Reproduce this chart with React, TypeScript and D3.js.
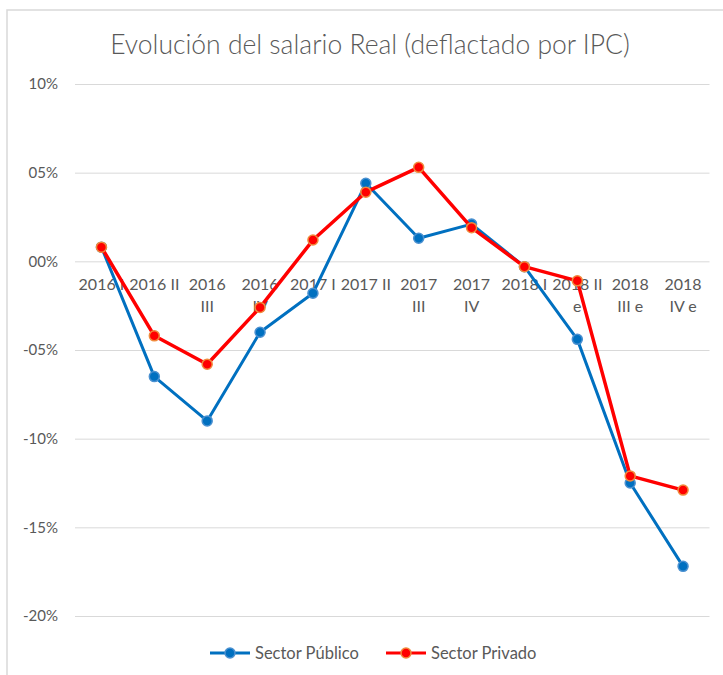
import React, { useEffect, useRef } from 'react';
import * as d3 from 'd3';

// etiquetas de periodo, "\n" marca el salto de línea del eje
const periods = [
    '2016 I', '2016 II', '2016\nIII', '2016\nIV', '2017 I', '2017 II',
    '2017\nIII', '2017\nIV', '2018 I', '2018 II\ne', '2018\nIII e', '2018\nIV e',
];
const publico = [0.8, -6.5, -9.0, -4.0, -1.8, 4.4, 1.3, 2.1, -0.3, -4.4, -12.5, -17.2];
const privado = [0.8, -4.2, -5.8, -2.6, 1.2, 3.9, 5.3, 1.9, -0.3, -1.1, -12.1, -12.9];
const yTicks = [10, 5, 0, -5, -10, -15, -20];
const seriesNames = ['Sector Público', 'Sector Privado'];

const W = 723;
const H = 675;
const FONT = 'Lato, "Open Sans", sans-serif';
const GREY = '#595959';

const App: React.FC = () => {
    const ref = useRef<SVGSVGElement>(null);

    useEffect(() => {
        draw();
        //eslint-disable-next-line
    }, []);

    const draw = () => {
        const svg = d3.select(ref.current);
        svg.selectAll('*').remove();

        // marco del gráfico
        svg.append('rect')
            .attr('x', 7).attr('y', 10)
            .attr('width', W + 10).attr('height', H + 10)
            .attr('fill', 'white')
            .attr('stroke', '#d9d9d9')
            .attr('stroke-width', 1.5);

        svg.append('text')
            .attr('x', 370).attr('y', 54)
            .attr('text-anchor', 'middle')
            .attr('font-family', FONT)
            .attr('font-weight', 300)
            .attr('font-size', 26.5)
            .attr('fill', GREY)
            .text('Evolución del salario Real (deflactado por IPC)');

        const x = d3.scaleBand()
            .domain(periods)
            .range([75, 709.5]);

        const y = d3.scaleLinear()
            .domain([-20, 10])
            .range([616, 84]);

        const cx = (i: number) => (x(periods[i]) ?? 0) + x.bandwidth() / 2;

        // rejilla y eje y
        const yAxis = svg.append('g')
            .attr('transform', 'translate(75,0)')
            .call(d3.axisLeft(y)
                .tickValues(yTicks)
                .tickSize(-634.5)
                .tickPadding(17)
                .tickFormat(d => {
                    const v = Number(d);
                    return (v < 0 ? '-' : '') + String(Math.abs(v)).padStart(2, '0') + '%';
                }));
        yAxis.select('.domain').remove();
        yAxis.selectAll('.tick line').attr('stroke', '#d9d9d9').attr('stroke-width', 1);
        yAxis.selectAll('.tick text')
            .attr('font-family', FONT)
            .attr('font-size', 15)
            .attr('fill', GREY);

        // etiquetas del eje x
        const xl = svg.append('g');
        periods.forEach((p, i) => {
            const t = xl.append('text')
                .attr('x', cx(i))
                .attr('y', 290)
                .attr('text-anchor', 'middle')
                .attr('font-family', FONT)
                .attr('font-size', 16)
                .attr('fill', GREY);
            p.split('\n').forEach((line, j) => {
                t.append('tspan')
                    .attr('x', cx(i))
                    .attr('dy', j === 0 ? 0 : 22)
                    .text(line);
            });
        });

        const line = d3.line<number>()
            .x((_, i) => cx(i))
            .y(d => y(d));

        const styles = [
            { color: '#0070c0', fill: '#0070c0', edge: '#4a90d0' },
            { color: '#ff0000', fill: '#ff0000', edge: '#f08a3c' },
        ];

        [publico, privado].forEach((data, k) => {
            const s = styles[k];
            svg.append('path')
                .datum(data)
                .attr('d', line)
                .attr('fill', 'none')
                .attr('stroke', s.color)
                .attr('stroke-width', k === 0 ? 3 : 3.5)
                .attr('stroke-linejoin', 'round');

            svg.append('g')
                .selectAll('circle')
                .data(data)
                .enter()
                .append('circle')
                .attr('cx', (_, i) => cx(i))
                .attr('cy', d => y(d))
                .attr('r', 5)
                .attr('fill', s.fill)
                .attr('stroke', s.edge)
                .attr('stroke-width', 1.5);
        });

        // leyenda
        const legendX = [210, 386];
        seriesNames.forEach((name, k) => {
            const s = styles[k];
            const g = svg.append('g').attr('transform', `translate(${legendX[k]},653)`);
            g.append('line')
                .attr('x1', 0).attr('x2', 40)
                .attr('stroke', s.color)
                .attr('stroke-width', 3);
            g.append('circle')
                .attr('cx', 20).attr('r', 5)
                .attr('fill', s.fill)
                .attr('stroke', s.edge)
                .attr('stroke-width', 1.5);
            g.append('text')
                .attr('x', 45).attr('y', 5.5)
                .attr('font-family', FONT)
                .attr('font-size', 16.5)
                .attr('fill', GREY)
                .text(name);
        });
    };

    return <svg ref={ref} width={W} height={H} style={{ position: 'absolute', left: 0, top: 0 }}></svg>;
};

export default App;
